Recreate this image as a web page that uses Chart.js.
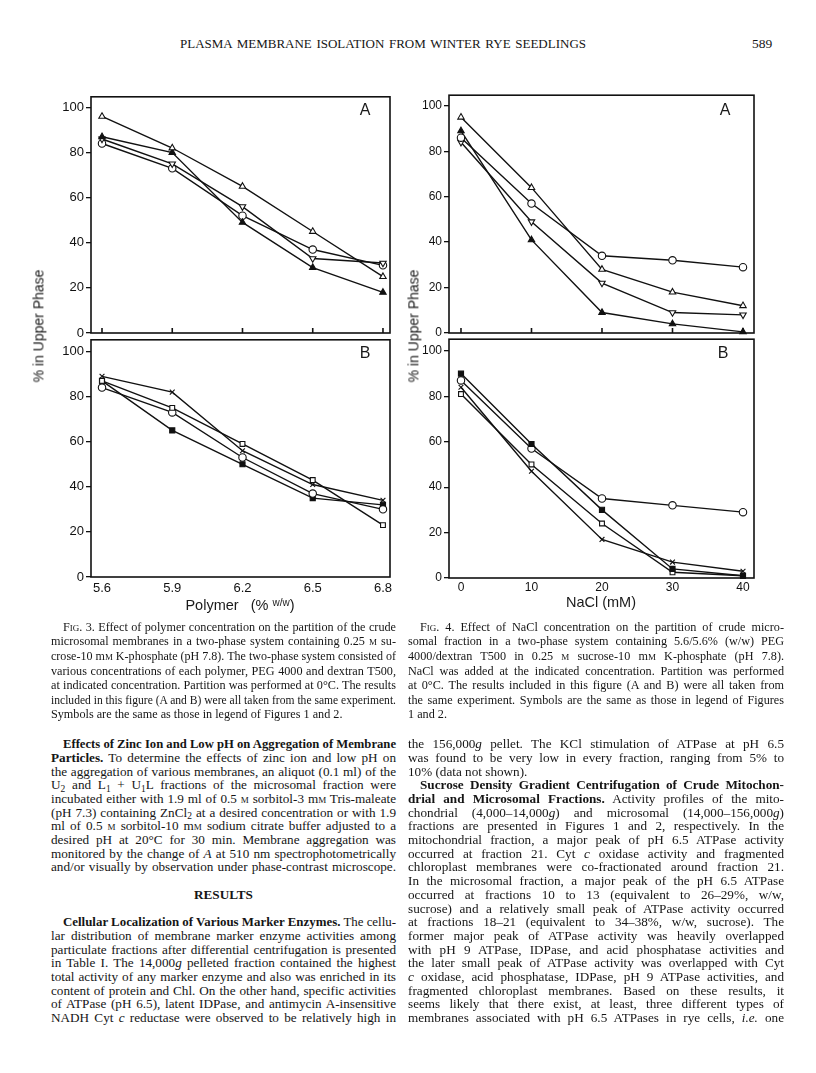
<!DOCTYPE html>
<html>
<head>
<meta charset="utf-8">
<script src="https://cdn.jsdelivr.net/npm/chart.js@4.4.0/dist/chart.umd.min.js"></script>
<style>
  body { margin: 0; width: 816px; height: 1073px; position: relative; overflow: hidden; background: #fff;
         font-family: "Liberation Serif", "Times New Roman", serif; color: #151515; }
  .ln { position: absolute; white-space: nowrap; }
  .sc { font-variant: small-caps; }
  .lo { font-size: 0.72em; position: relative; top: 0.25em; }
  .sans { position: absolute; font-family: "Liberation Sans", Arial, sans-serif; font-weight: normal; color: #1a1a1a; white-space: nowrap; }
  canvas { position: absolute; }
</style>
</head>
<body>

<script>
// ---- data ----
const percentTicks = [0, 20, 40, 60, 80, 100];

// Fig. 3: polymer concentration (% w/w)
const polymer = [5.6, 5.9, 6.2, 6.5, 6.8];
const fig3A_openTri   = [96, 82, 65, 45, 25];
const fig3A_filledTri = [87, 80, 49, 29, 18];
const fig3A_invTri    = [86, 75, 56, 33, 31];
const fig3A_circle    = [84, 73, 52, 37, 30];
const fig3B_cross     = [89, 82, 56, 41, 34];
const fig3B_openSq    = [87, 75, 59, 43, 23];
const fig3B_circle    = [84, 73, 53, 37, 30];
const fig3B_filledSq  = [87, 65, 50, 35, 32];

// Fig. 4: NaCl (mM)
const nacl = [0, 10, 20, 30, 40];
const fig4A_openTri   = [95, 64, 28, 18, 12];
const fig4A_circle    = [86, 57, 34, 32, 29];
const fig4A_invTri    = [84, 49, 22, 9, 8];
const fig4A_filledTri = [89, 41, 9, 4, 0.5];
const fig4B_filledSq  = [90, 59, 30, 4, 1];
const fig4B_circle    = [87, 57, 35, 32, 29];
const fig4B_cross     = [84, 47, 17, 7, 3];
const fig4B_openSq    = [81, 50, 24, 2.5, 1];

// ---- markers ----
const INK = '#111';
const marks = {
  openTri:   { style: 'triangle', bg: '#fff' },
  filledTri: { style: 'triangle', bg: INK },
  invTri:    { style: 'triangle', bg: '#fff', rot: 180 },
  circle:    { style: 'circle', bg: '#fff' },
  openSq:    { style: 'rect', bg: '#fff', r: 3.4 },
  filledSq:  { style: 'rect', bg: INK, r: 3.6 },
  cross:     { style: 'crossRot', bg: INK, r: 3.4 }
};

function line(xs, ys, kind) {
  const m = marks[kind];
  return {
    data: xs.map((x, i) => ({ x: x, y: ys[i] })),
    borderColor: INK, borderWidth: 1.4, tension: 0, fill: false, clip: false,
    pointStyle: m.style, pointRotation: m.rot || 0, pointRadius: m.r || 3.7,
    pointBackgroundColor: m.bg, pointBorderColor: INK, pointBorderWidth: 1.1
  };
}

const frame = {
  id: 'frame',
  beforeDatasetsDraw(chart, args, opts) {
    const a = chart.chartArea, ctx = chart.ctx;
    ctx.save();
    ctx.strokeStyle = INK;
    ctx.lineWidth = 1.6;
    ctx.strokeRect(a.left, a.top, a.right - a.left, a.bottom - a.top);
    if (opts.innerTicks) {
      const sx = chart.scales.x;
      sx.ticks.forEach(t => {
        const px = sx.getPixelForValue(t.value);
        ctx.beginPath();
        ctx.moveTo(px, a.bottom);
        ctx.lineTo(px, a.bottom - 5);
        ctx.stroke();
      });
    }
    ctx.restore();
  }
};

const AXW = 50, PADT = 3, PADR = 12;

function panel(p) {
  const cv = document.createElement('canvas');
  cv.width = AXW + p.w + PADR;
  cv.height = PADT + p.h + p.xh;
  cv.style.left = (p.left - AXW) + 'px';
  cv.style.top = (p.top - PADT) + 'px';
  document.body.appendChild(cv);
  const font = { family: '"Liberation Sans", Arial, sans-serif', size: p.fs };
  new Chart(cv, {
    type: 'line',
    data: { datasets: p.datasets },
    plugins: [frame],
    options: {
      responsive: false, animation: false,
      layout: { padding: { top: PADT, right: PADR, left: 0, bottom: 0 } },
      plugins: { legend: { display: false }, tooltip: { enabled: false }, frame: { innerTicks: p.innerTicks } },
      scales: {
        x: {
          type: 'linear', min: p.xr[0], max: p.xr[1],
          afterBuildTicks: s => { s.ticks = p.xTicks.map(v => ({ value: v })); },
          afterFit: s => { s.height = p.xh; },
          grid: { display: false, drawTicks: false }, border: { display: false },
          ticks: { display: p.xLabels, padding: p.xpad || 3, font: font, color: INK, autoSkip: false, maxRotation: 0,
                   callback: p.fmt }
        },
        y: {
          min: 0, max: p.ymax,
          afterBuildTicks: s => { s.ticks = percentTicks.map(v => ({ value: v })); },
          afterFit: s => { s.width = AXW; },
          grid: { drawOnChartArea: false, drawTicks: true, tickLength: 5, color: INK, lineWidth: 1.3 },
          border: { display: false },
          ticks: { padding: 2, font: font, color: INK }
        }
      }
    }
  });
}

const fmt3 = v => v.toFixed(1);
const fmt4 = v => String(v);

panel({ left: 91, top: 90, w: 299, h: 243, xh: 10, xr: [5.553, 6.83], ymax: 104.7, xTicks: polymer,
        xLabels: false, innerTicks: true, fs: 13, fmt: fmt3,
        datasets: [line(polymer, fig3A_openTri, 'openTri'), line(polymer, fig3A_filledTri, 'filledTri'),
                   line(polymer, fig3A_invTri, 'invTri'), line(polymer, fig3A_circle, 'circle')] });
panel({ left: 91, top: 333, w: 299, h: 244, xh: 22, xr: [5.553, 6.83], ymax: 105.2, xTicks: polymer,
        xLabels: true, innerTicks: false, fs: 13, fmt: fmt3, xpad: 4,
        datasets: [line(polymer, fig3B_cross, 'cross'), line(polymer, fig3B_openSq, 'openSq'),
                   line(polymer, fig3B_circle, 'circle'), line(polymer, fig3B_filledSq, 'filledSq')] });
panel({ left: 449, top: 89, w: 305, h: 244, xh: 10, xr: [-1.7, 41.56], ymax: 104.7, xTicks: nacl,
        xLabels: false, innerTicks: true, fs: 12, fmt: fmt4,
        datasets: [line(nacl, fig4A_openTri, 'openTri'), line(nacl, fig4A_circle, 'circle'),
                   line(nacl, fig4A_invTri, 'invTri'), line(nacl, fig4A_filledTri, 'filledTri')] });
panel({ left: 449, top: 333, w: 305, h: 245, xh: 20, xr: [-1.7, 41.56], ymax: 105.15, xTicks: nacl,
        xLabels: true, innerTicks: false, fs: 12, fmt: fmt4, xpad: 2,
        datasets: [line(nacl, fig4B_filledSq, 'filledSq'), line(nacl, fig4B_circle, 'circle'),
                   line(nacl, fig4B_cross, 'cross'), line(nacl, fig4B_openSq, 'openSq')] });

// ---- figure labels ----
function label(html, x, y, size, extra) {
  const d = document.createElement('div');
  d.className = 'sans';
  d.style.fontSize = size + 'px';
  d.innerHTML = html;
  document.body.appendChild(d);
  const r = d.getBoundingClientRect();
  d.style.left = (x - r.width / 2) + 'px';
  d.style.top = (y - r.height / 2) + 'px';
  if (extra) d.style.transform = extra;
  return d;
}
label('A', 365, 110, 16);
label('B', 365, 353, 16);
label('A', 725, 110, 16);
label('B', 723, 353, 16);
label('% in Upper Phase', 38, 326, 14, 'rotate(-90deg)');
label('% in Upper Phase', 413, 326, 14, 'rotate(-90deg)');
label('Polymer&nbsp;&nbsp; (% <span style="font-size:10px;position:relative;top:-4px">w/w</span>)', 240, 605, 14.5);
label('NaCl (mM)', 601, 602, 14.5);

// ---- page text ----
function put(lines, x, y0, step, width, size) {
  lines.forEach((l, i) => {
    if (!l) return;
    const d = document.createElement('div');
    d.className = 'ln';
    const ind = l.ind || 0;
    d.style.fontSize = size + 'px';
    d.style.lineHeight = step + 'px';
    d.style.top = (y0 + i * step - step / 2) + 'px';
    d.innerHTML = l.t;
    document.body.appendChild(d);
    const w = width - ind;
    const nat = d.getBoundingClientRect().width;
    if (l.c) { d.style.left = (x + (width - nat) / 2) + 'px'; return; }
    d.style.left = (x + ind) + 'px';
    if (l.last && nat <= w) return;
    const gaps = (d.textContent.match(/ /g) || []).length;
    if (nat < w && gaps) d.style.wordSpacing = ((w - nat) / gaps) + 'px';
    else if (nat > w) { d.style.transformOrigin = '0 0'; d.style.transform = 'scaleX(' + (w / nat) + ')'; }
  });
}
const J = t => ({ t: t });
const I = t => ({ t: t, ind: 12 });
const E = t => ({ t: t, last: true });

put([{ t: 'PLASMA MEMBRANE ISOLATION FROM WINTER RYE SEEDLINGS' }], 180, 43, 15, 406, 13);
put([E('589')], 752, 43, 15, 30, 13.5);

const cap3 = [
  I('<span class="sc">Fig</span>. 3. Effect of polymer concentration on the partition of the crude'),
  J('microsomal membranes in a two-phase system containing 0.25 <span class="sc">m</span> su-'),
  J('crose-10 m<span class="sc">m</span> K-phosphate (pH 7.8). The two-phase system consisted of'),
  J('various concentrations of each polymer, PEG 4000 and dextran T500,'),
  J('at indicated concentration. Partition was performed at 0°C. The results'),
  J('included in this figure (A and B) were all taken from the same experiment.'),
  E('Symbols are the same as those in legend of Figures 1 and 2.')
];
const cap4 = [
  I('<span class="sc">Fig</span>. 4. Effect of NaCl concentration on the partition of crude micro-'),
  J('somal fraction in a two-phase system containing 5.6/5.6% (w/w) PEG'),
  J('4000/dextran T500 in 0.25 <span class="sc">m</span> sucrose-10 m<span class="sc">m</span> K-phosphate (pH 7.8).'),
  J('NaCl was added at the indicated concentration. Partition was performed'),
  J('at 0°C. The results included in this figure (A and B) were all taken from'),
  J('the same experiment. Symbols are the same as those in legend of Figures'),
  E('1 and 2.')
];
put(cap3, 51, 627, 14.6, 345, 12.2);
put(cap4, 408, 627, 14.6, 376, 12.2);

const leftCol = [
  I('<b>Effects of Zinc Ion and Low pH on Aggregation of Membrane</b>'),
  J('<b>Particles.</b> To determine the effects of zinc ion and low pH on'),
  J('the aggregation of various membranes, an aliquot (0.1 ml) of the'),
  J('U<span class="lo">2</span> and L<span class="lo">1</span> + U<span class="lo">1</span>L fractions of the microsomal fraction were'),
  J('incubated either with 1.9 ml of 0.5 <span class="sc">m</span> sorbitol-3 m<span class="sc">m</span> Tris-maleate'),
  J('(pH 7.3) containing ZnCl<span class="lo">2</span> at a desired concentration or with 1.9'),
  J('ml of 0.5 <span class="sc">m</span> sorbitol-10 m<span class="sc">m</span> sodium citrate buffer adjusted to a'),
  J('desired pH at 20°C for 30 min. Membrane aggregation was'),
  J('monitored by the change of <i>A</i> at 510 nm spectrophotometrically'),
  J('and/or visually by observation under phase-contrast microscope.'),
  null,
  { t: '<b>RESULTS</b>', c: true },
  null,
  I('<b>Cellular Localization of Various Marker Enzymes.</b> The cellu-'),
  J('lar distribution of membrane marker enzyme activities among'),
  J('particulate fractions after differential centrifugation is presented'),
  J('in Table I. The 14,000<i>g</i> pelleted fraction contained the highest'),
  J('total activity of any marker enzyme and also was enriched in its'),
  J('content of protein and Chl. On the other hand, specific activities'),
  J('of ATPase (pH 6.5), latent IDPase, and antimycin A-insensitive'),
  J('NADH Cyt <i>c</i> reductase were observed to be relatively high in')
];
const rightCol = [
  J('the 156,000<i>g</i> pellet. The KCl stimulation of ATPase at pH 6.5'),
  J('was found to be very low in every fraction, ranging from 5% to'),
  E('10% (data not shown).'),
  I('<b>Sucrose Density Gradient Centrifugation of Crude Mitochon-</b>'),
  J('<b>drial and Microsomal Fractions.</b> Activity profiles of the mito-'),
  J('chondrial (4,000–14,000<i>g</i>) and microsomal (14,000–156,000<i>g</i>)'),
  J('fractions are presented in Figures 1 and 2, respectively. In the'),
  J('mitochondrial fraction, a major peak of pH 6.5 ATPase activity'),
  J('occurred at fraction 21. Cyt <i>c</i> oxidase activity and fragmented'),
  J('chloroplast membranes were co-fractionated around fraction 21.'),
  J('In the microsomal fraction, a major peak of the pH 6.5 ATPase'),
  J('occurred at fractions 10 to 13 (equivalent to 26–29%, w/w,'),
  J('sucrose) and a relatively small peak of ATPase activity occurred'),
  J('at fractions 18–21 (equivalent to 34–38%, w/w, sucrose). The'),
  J('former major peak of ATPase activity was heavily overlapped'),
  J('with pH 9 ATPase, IDPase, and acid phosphatase activities and'),
  J('the later small peak of ATPase activity was overlapped with Cyt'),
  J('<i>c</i> oxidase, acid phosphatase, IDPase, pH 9 ATPase activities, and'),
  J('fragmented chloroplast membranes. Based on these results, it'),
  J('seems likely that there exist, at least, three different types of'),
  J('membranes associated with pH 6.5 ATPases in rye cells, <i>i.e.</i> one')
];
put(leftCol, 51, 744, 13.7, 345, 13.2);
put(rightCol, 408, 744, 13.7, 376, 13.2);
</script>
</body>
</html>
